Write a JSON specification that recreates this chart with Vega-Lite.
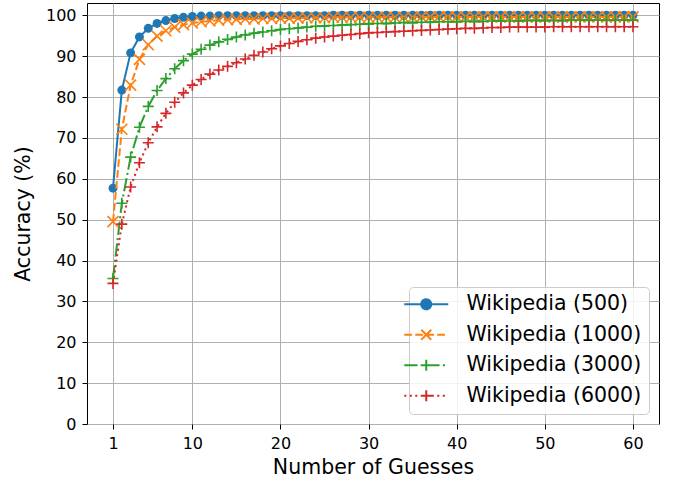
{
  "$schema": "https://vega.github.io/schema/vega-lite/v6.json",
  "autosize": {"type": "none"},
  "width": 572,
  "height": 421,
  "padding": {"left": 87, "top": 3, "right": 14, "bottom": 56},
  "background": "white",
  "config": {
    "font": "DejaVu Sans",
    "view": {"stroke": "black", "strokeWidth": 1},
    "axis": {
      "domain": false,
      "grid": true,
      "gridColor": "#b0b0b0",
      "gridWidth": 1,
      "tickColor": "black",
      "tickSize": 5,
      "tickWidth": 1,
      "labelFont": "DejaVu Sans",
      "labelFontSize": 16,
      "labelColor": "black",
      "labelPadding": 6,
      "titleFont": "DejaVu Sans",
      "titleFontSize": 20.5,
      "titleFontWeight": "normal",
      "titleColor": "black"
    }
  },
  "data": {
    "values": [
      {"g":1,"s":"Wikipedia (500)","a":57.7},{"g":2,"s":"Wikipedia (500)","a":81.7},{"g":3,"s":"Wikipedia (500)","a":90.8},{"g":4,"s":"Wikipedia (500)","a":94.7},{"g":5,"s":"Wikipedia (500)","a":96.8},{"g":6,"s":"Wikipedia (500)","a":98.0},{"g":7,"s":"Wikipedia (500)","a":98.7},{"g":8,"s":"Wikipedia (500)","a":99.2},{"g":9,"s":"Wikipedia (500)","a":99.5},{"g":10,"s":"Wikipedia (500)","a":99.7},
      {"g":11,"s":"Wikipedia (500)","a":99.8},{"g":12,"s":"Wikipedia (500)","a":99.8},{"g":13,"s":"Wikipedia (500)","a":99.9},{"g":14,"s":"Wikipedia (500)","a":99.9},{"g":15,"s":"Wikipedia (500)","a":99.9},{"g":16,"s":"Wikipedia (500)","a":99.9},{"g":17,"s":"Wikipedia (500)","a":99.9},{"g":18,"s":"Wikipedia (500)","a":99.9},{"g":19,"s":"Wikipedia (500)","a":99.9},{"g":20,"s":"Wikipedia (500)","a":99.9},
      {"g":21,"s":"Wikipedia (500)","a":99.9},{"g":22,"s":"Wikipedia (500)","a":99.9},{"g":23,"s":"Wikipedia (500)","a":99.9},{"g":24,"s":"Wikipedia (500)","a":99.9},{"g":25,"s":"Wikipedia (500)","a":99.9},{"g":26,"s":"Wikipedia (500)","a":100},{"g":27,"s":"Wikipedia (500)","a":100},{"g":28,"s":"Wikipedia (500)","a":100},{"g":29,"s":"Wikipedia (500)","a":100},{"g":30,"s":"Wikipedia (500)","a":100},
      {"g":31,"s":"Wikipedia (500)","a":100},{"g":32,"s":"Wikipedia (500)","a":100},{"g":33,"s":"Wikipedia (500)","a":100},{"g":34,"s":"Wikipedia (500)","a":100},{"g":35,"s":"Wikipedia (500)","a":100},{"g":36,"s":"Wikipedia (500)","a":100},{"g":37,"s":"Wikipedia (500)","a":100},{"g":38,"s":"Wikipedia (500)","a":100},{"g":39,"s":"Wikipedia (500)","a":100},{"g":40,"s":"Wikipedia (500)","a":100},
      {"g":41,"s":"Wikipedia (500)","a":100},{"g":42,"s":"Wikipedia (500)","a":100},{"g":43,"s":"Wikipedia (500)","a":100},{"g":44,"s":"Wikipedia (500)","a":100},{"g":45,"s":"Wikipedia (500)","a":100},{"g":46,"s":"Wikipedia (500)","a":100},{"g":47,"s":"Wikipedia (500)","a":100},{"g":48,"s":"Wikipedia (500)","a":100},{"g":49,"s":"Wikipedia (500)","a":100},{"g":50,"s":"Wikipedia (500)","a":100},
      {"g":51,"s":"Wikipedia (500)","a":100},{"g":52,"s":"Wikipedia (500)","a":100},{"g":53,"s":"Wikipedia (500)","a":100},{"g":54,"s":"Wikipedia (500)","a":100},{"g":55,"s":"Wikipedia (500)","a":100},{"g":56,"s":"Wikipedia (500)","a":100},{"g":57,"s":"Wikipedia (500)","a":100},{"g":58,"s":"Wikipedia (500)","a":100},{"g":59,"s":"Wikipedia (500)","a":100},{"g":60,"s":"Wikipedia (500)","a":100},

      {"g":1,"s":"Wikipedia (1000)","a":49.5},{"g":2,"s":"Wikipedia (1000)","a":72.1},{"g":3,"s":"Wikipedia (1000)","a":82.9},{"g":4,"s":"Wikipedia (1000)","a":89.2},{"g":5,"s":"Wikipedia (1000)","a":92.8},{"g":6,"s":"Wikipedia (1000)","a":94.9},{"g":7,"s":"Wikipedia (1000)","a":96.2},{"g":8,"s":"Wikipedia (1000)","a":97.1},{"g":9,"s":"Wikipedia (1000)","a":97.7},{"g":10,"s":"Wikipedia (1000)","a":98.1},
      {"g":11,"s":"Wikipedia (1000)","a":98.4},{"g":12,"s":"Wikipedia (1000)","a":98.6},{"g":13,"s":"Wikipedia (1000)","a":98.8},{"g":14,"s":"Wikipedia (1000)","a":98.9},{"g":15,"s":"Wikipedia (1000)","a":99.0},{"g":16,"s":"Wikipedia (1000)","a":99.1},{"g":17,"s":"Wikipedia (1000)","a":99.1},{"g":18,"s":"Wikipedia (1000)","a":99.2},{"g":19,"s":"Wikipedia (1000)","a":99.2},{"g":20,"s":"Wikipedia (1000)","a":99.3},
      {"g":21,"s":"Wikipedia (1000)","a":99.3},{"g":22,"s":"Wikipedia (1000)","a":99.3},{"g":23,"s":"Wikipedia (1000)","a":99.4},{"g":24,"s":"Wikipedia (1000)","a":99.4},{"g":25,"s":"Wikipedia (1000)","a":99.4},{"g":26,"s":"Wikipedia (1000)","a":99.5},{"g":27,"s":"Wikipedia (1000)","a":99.5},{"g":28,"s":"Wikipedia (1000)","a":99.5},{"g":29,"s":"Wikipedia (1000)","a":99.5},{"g":30,"s":"Wikipedia (1000)","a":99.5},
      {"g":31,"s":"Wikipedia (1000)","a":99.5},{"g":32,"s":"Wikipedia (1000)","a":99.5},{"g":33,"s":"Wikipedia (1000)","a":99.5},{"g":34,"s":"Wikipedia (1000)","a":99.5},{"g":35,"s":"Wikipedia (1000)","a":99.5},{"g":36,"s":"Wikipedia (1000)","a":99.6},{"g":37,"s":"Wikipedia (1000)","a":99.6},{"g":38,"s":"Wikipedia (1000)","a":99.6},{"g":39,"s":"Wikipedia (1000)","a":99.6},{"g":40,"s":"Wikipedia (1000)","a":99.6},
      {"g":41,"s":"Wikipedia (1000)","a":99.6},{"g":42,"s":"Wikipedia (1000)","a":99.6},{"g":43,"s":"Wikipedia (1000)","a":99.6},{"g":44,"s":"Wikipedia (1000)","a":99.6},{"g":45,"s":"Wikipedia (1000)","a":99.6},{"g":46,"s":"Wikipedia (1000)","a":99.6},{"g":47,"s":"Wikipedia (1000)","a":99.6},{"g":48,"s":"Wikipedia (1000)","a":99.6},{"g":49,"s":"Wikipedia (1000)","a":99.6},{"g":50,"s":"Wikipedia (1000)","a":99.6},
      {"g":51,"s":"Wikipedia (1000)","a":99.6},{"g":52,"s":"Wikipedia (1000)","a":99.6},{"g":53,"s":"Wikipedia (1000)","a":99.6},{"g":54,"s":"Wikipedia (1000)","a":99.6},{"g":55,"s":"Wikipedia (1000)","a":99.6},{"g":56,"s":"Wikipedia (1000)","a":99.6},{"g":57,"s":"Wikipedia (1000)","a":99.6},{"g":58,"s":"Wikipedia (1000)","a":99.6},{"g":59,"s":"Wikipedia (1000)","a":99.6},{"g":60,"s":"Wikipedia (1000)","a":99.6},

      {"g":1,"s":"Wikipedia (3000)","a":35.6},{"g":2,"s":"Wikipedia (3000)","a":54.0},{"g":3,"s":"Wikipedia (3000)","a":65.3},{"g":4,"s":"Wikipedia (3000)","a":72.6},{"g":5,"s":"Wikipedia (3000)","a":77.7},{"g":6,"s":"Wikipedia (3000)","a":81.6},{"g":7,"s":"Wikipedia (3000)","a":84.5},{"g":8,"s":"Wikipedia (3000)","a":86.9},{"g":9,"s":"Wikipedia (3000)","a":88.9},{"g":10,"s":"Wikipedia (3000)","a":90.5},
      {"g":11,"s":"Wikipedia (3000)","a":91.7},{"g":12,"s":"Wikipedia (3000)","a":92.7},{"g":13,"s":"Wikipedia (3000)","a":93.5},{"g":14,"s":"Wikipedia (3000)","a":94.1},{"g":15,"s":"Wikipedia (3000)","a":94.7},{"g":16,"s":"Wikipedia (3000)","a":95.2},{"g":17,"s":"Wikipedia (3000)","a":95.6},{"g":18,"s":"Wikipedia (3000)","a":95.9},{"g":19,"s":"Wikipedia (3000)","a":96.2},{"g":20,"s":"Wikipedia (3000)","a":96.5},
      {"g":21,"s":"Wikipedia (3000)","a":96.7},{"g":22,"s":"Wikipedia (3000)","a":96.9},{"g":23,"s":"Wikipedia (3000)","a":97.1},{"g":24,"s":"Wikipedia (3000)","a":97.3},{"g":25,"s":"Wikipedia (3000)","a":97.4},{"g":26,"s":"Wikipedia (3000)","a":97.5},{"g":27,"s":"Wikipedia (3000)","a":97.6},{"g":28,"s":"Wikipedia (3000)","a":97.7},{"g":29,"s":"Wikipedia (3000)","a":97.8},{"g":30,"s":"Wikipedia (3000)","a":97.9},
      {"g":31,"s":"Wikipedia (3000)","a":98.0},{"g":32,"s":"Wikipedia (3000)","a":98.0},{"g":33,"s":"Wikipedia (3000)","a":98.1},{"g":34,"s":"Wikipedia (3000)","a":98.2},{"g":35,"s":"Wikipedia (3000)","a":98.2},{"g":36,"s":"Wikipedia (3000)","a":98.3},{"g":37,"s":"Wikipedia (3000)","a":98.3},{"g":38,"s":"Wikipedia (3000)","a":98.4},{"g":39,"s":"Wikipedia (3000)","a":98.4},{"g":40,"s":"Wikipedia (3000)","a":98.4},
      {"g":41,"s":"Wikipedia (3000)","a":98.5},{"g":42,"s":"Wikipedia (3000)","a":98.5},{"g":43,"s":"Wikipedia (3000)","a":98.5},{"g":44,"s":"Wikipedia (3000)","a":98.6},{"g":45,"s":"Wikipedia (3000)","a":98.6},{"g":46,"s":"Wikipedia (3000)","a":98.6},{"g":47,"s":"Wikipedia (3000)","a":98.6},{"g":48,"s":"Wikipedia (3000)","a":98.7},{"g":49,"s":"Wikipedia (3000)","a":98.7},{"g":50,"s":"Wikipedia (3000)","a":98.7},
      {"g":51,"s":"Wikipedia (3000)","a":98.7},{"g":52,"s":"Wikipedia (3000)","a":98.7},{"g":53,"s":"Wikipedia (3000)","a":98.8},{"g":54,"s":"Wikipedia (3000)","a":98.8},{"g":55,"s":"Wikipedia (3000)","a":98.8},{"g":56,"s":"Wikipedia (3000)","a":98.8},{"g":57,"s":"Wikipedia (3000)","a":98.8},{"g":58,"s":"Wikipedia (3000)","a":98.8},{"g":59,"s":"Wikipedia (3000)","a":98.8},{"g":60,"s":"Wikipedia (3000)","a":98.8},

      {"g":1,"s":"Wikipedia (6000)","a":34.4},{"g":2,"s":"Wikipedia (6000)","a":48.9},{"g":3,"s":"Wikipedia (6000)","a":58.0},{"g":4,"s":"Wikipedia (6000)","a":63.9},{"g":5,"s":"Wikipedia (6000)","a":68.8},{"g":6,"s":"Wikipedia (6000)","a":72.7},{"g":7,"s":"Wikipedia (6000)","a":76.0},{"g":8,"s":"Wikipedia (6000)","a":78.7},{"g":9,"s":"Wikipedia (6000)","a":81.0},{"g":10,"s":"Wikipedia (6000)","a":82.9},
      {"g":11,"s":"Wikipedia (6000)","a":84.3},{"g":12,"s":"Wikipedia (6000)","a":85.6},{"g":13,"s":"Wikipedia (6000)","a":86.6},{"g":14,"s":"Wikipedia (6000)","a":87.5},{"g":15,"s":"Wikipedia (6000)","a":88.4},{"g":16,"s":"Wikipedia (6000)","a":89.3},{"g":17,"s":"Wikipedia (6000)","a":90.2},{"g":18,"s":"Wikipedia (6000)","a":91.0},{"g":19,"s":"Wikipedia (6000)","a":91.8},{"g":20,"s":"Wikipedia (6000)","a":92.5},
      {"g":21,"s":"Wikipedia (6000)","a":93.1},{"g":22,"s":"Wikipedia (6000)","a":93.6},{"g":23,"s":"Wikipedia (6000)","a":94.0},{"g":24,"s":"Wikipedia (6000)","a":94.4},{"g":25,"s":"Wikipedia (6000)","a":94.7},{"g":26,"s":"Wikipedia (6000)","a":94.9},{"g":27,"s":"Wikipedia (6000)","a":95.1},{"g":28,"s":"Wikipedia (6000)","a":95.3},{"g":29,"s":"Wikipedia (6000)","a":95.5},{"g":30,"s":"Wikipedia (6000)","a":95.7},
      {"g":31,"s":"Wikipedia (6000)","a":95.8},{"g":32,"s":"Wikipedia (6000)","a":95.9},{"g":33,"s":"Wikipedia (6000)","a":96.0},{"g":34,"s":"Wikipedia (6000)","a":96.1},{"g":35,"s":"Wikipedia (6000)","a":96.2},{"g":36,"s":"Wikipedia (6000)","a":96.3},{"g":37,"s":"Wikipedia (6000)","a":96.4},{"g":38,"s":"Wikipedia (6000)","a":96.5},{"g":39,"s":"Wikipedia (6000)","a":96.6},{"g":40,"s":"Wikipedia (6000)","a":96.7},
      {"g":41,"s":"Wikipedia (6000)","a":96.8},{"g":42,"s":"Wikipedia (6000)","a":96.8},{"g":43,"s":"Wikipedia (6000)","a":96.9},{"g":44,"s":"Wikipedia (6000)","a":97.0},{"g":45,"s":"Wikipedia (6000)","a":97.0},{"g":46,"s":"Wikipedia (6000)","a":97.1},{"g":47,"s":"Wikipedia (6000)","a":97.1},{"g":48,"s":"Wikipedia (6000)","a":97.1},{"g":49,"s":"Wikipedia (6000)","a":97.1},{"g":50,"s":"Wikipedia (6000)","a":97.1},
      {"g":51,"s":"Wikipedia (6000)","a":97.2},{"g":52,"s":"Wikipedia (6000)","a":97.2},{"g":53,"s":"Wikipedia (6000)","a":97.2},{"g":54,"s":"Wikipedia (6000)","a":97.2},{"g":55,"s":"Wikipedia (6000)","a":97.2},{"g":56,"s":"Wikipedia (6000)","a":97.2},{"g":57,"s":"Wikipedia (6000)","a":97.2},{"g":58,"s":"Wikipedia (6000)","a":97.2},{"g":59,"s":"Wikipedia (6000)","a":97.2},{"g":60,"s":"Wikipedia (6000)","a":97.2}
    ]
  },
  "encoding": {
    "x": {
      "field": "g", "type": "quantitative",
      "scale": {"domain": [-1.95, 62.95], "nice": false, "zero": false},
      "axis": {"values": [1, 10, 20, 30, 40, 50, 60], "title": "Number of Guesses", "titlePadding": 6}
    },
    "y": {
      "field": "a", "type": "quantitative",
      "scale": {"domain": [0, 103], "nice": false},
      "axis": {"values": [0, 10, 20, 30, 40, 50, 60, 70, 80, 90, 100], "title": "Accuracy (%)", "titlePadding": 12}
    }
  },
  "layer": [
    {
      "transform": [{"filter": "datum.s === 'Wikipedia (500)'"}],
      "mark": {"type": "line", "strokeWidth": 2},
      "encoding": {
        "color": {
          "field": "s", "type": "nominal",
          "scale": {
            "domain": ["Wikipedia (500)", "Wikipedia (1000)", "Wikipedia (3000)", "Wikipedia (6000)"],
            "range": ["#1f77b4", "#ff7f0e", "#2ca02c", "#d62728"]
          },
          "legend": {
            "title": null,
            "orient": "bottom-right",
            "offset": 10,
            "padding": 7,
            "rowPadding": 9.5,
            "fillColor": "rgba(255,255,255,0.85)",
            "strokeColor": "#cccccc",
            "cornerRadius": 4,
            "labelFont": "DejaVu Sans",
            "labelFontSize": 20.5,
            "labelColor": "black",
            "labelLimit": 400,
            "labelOffset": 30,
            "symbolSize": 100,
            "encode": {
              "symbols": {
                "update": {
                  "shape": {"signal": "datum.value === 'Wikipedia (500)' ? 'M-4.4,0L4.4,0M1,0A1,1,0,1,1,-1,0A1,1,0,1,1,1,0Z' : datum.value === 'Wikipedia (1000)' ? 'M-4.4,0L-2.86,0M-2.2,0L-0.66,0M0,0L1.54,0M2.2,0L3.74,0M-1,-1L1,1M-1,1L1,-1' : datum.value === 'Wikipedia (3000)' ? 'M-4.4,0L-1.74,0M-1.08,0L-0.66,0M0,0L2.66,0M3.32,0L3.74,0M-1.1,0L1.1,0M0,-1.1L0,1.1' : 'M-4.4,0L-3.98,0M-3.3,0L-2.88,0M-2.2,0L-1.78,0M-1.1,0L-0.68,0M0,0L0.42,0M1.1,0L1.52,0M2.2,0L2.62,0M3.3,0L3.72,0M-1.1,0L1.1,0M0,-1.1L0,1.1'"},
                  "fill": {"signal": "datum.value === 'Wikipedia (500)' ? '#1f77b4' : 'transparent'"},
                  "strokeWidth": {"value": 2},
                  "strokeDash": {"value": [1, 0]},
                  "size": {"value": 100},
                  "opacity": {"value": 1}
                }
              }
            }
          }
        }
      }
    },
    {
      "transform": [{"filter": "datum.s === 'Wikipedia (500)'"}],
      "mark": {"type": "point", "shape": "circle", "filled": true, "size": 80, "opacity": 1},
      "encoding": {
        "color": {"field": "s", "type": "nominal", "legend": null}
      }
    },
    {
      "transform": [{"filter": "datum.s !== 'Wikipedia (500)'"}],
      "mark": {"type": "line", "strokeWidth": 2},
      "encoding": {
        "color": {"field": "s", "type": "nominal", "legend": null},
        "strokeDash": {
          "field": "s", "type": "nominal", "legend": null,
          "scale": {
            "domain": ["Wikipedia (1000)", "Wikipedia (3000)", "Wikipedia (6000)"],
            "range": [[7.7, 3.3], [13.3, 3.3, 2.1, 3.3], [2.1, 3.4]]
          }
        }
      }
    },
    {
      "transform": [{"filter": "datum.s !== 'Wikipedia (500)'"}],
      "mark": {"type": "point", "filled": false, "size": 121, "strokeWidth": 1.6, "opacity": 1},
      "encoding": {
        "color": {"field": "s", "type": "nominal", "legend": null},
        "shape": {
          "field": "s", "type": "nominal", "legend": null,
          "scale": {
            "domain": ["Wikipedia (6000)", "Wikipedia (3000)", "Wikipedia (1000)"],
            "range": ["M-1,0H1M0,-1V1", "M-1,0H1M0,-1V1", "M-1,-1L1,1M-1,1L1,-1"]
          }
        }
      }
    }
  ]
}
